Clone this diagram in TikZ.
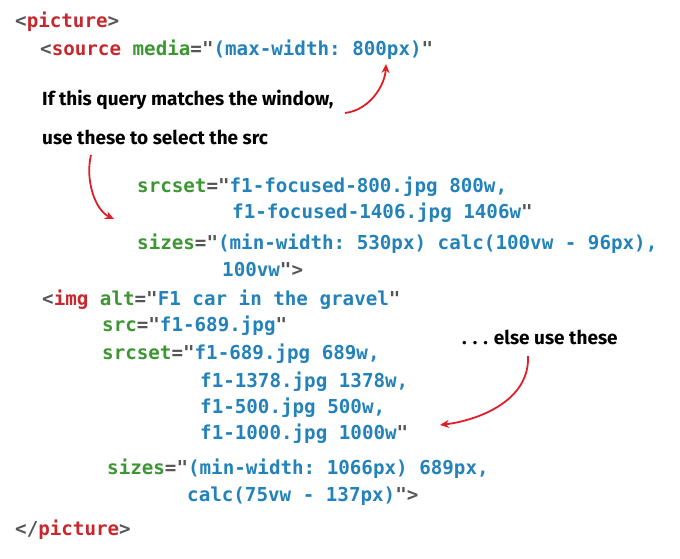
\documentclass[tikz,border=0pt]{standalone}
\usetikzlibrary{arrows.meta}
\usepackage{fontspec}
\setmonofont{DejaVu Sans Mono}
\newfontfamily\hand{Fira Sans}
\definecolor{tagc}{RGB}{200,40,45}
\definecolor{attc}{RGB}{60,150,50}
\definecolor{valc}{RGB}{35,130,185}
\definecolor{punc}{RGB}{85,85,85}
\definecolor{arrc}{RGB}{225,30,40}
\newcommand{\Tg}[1]{\textcolor{tagc}{#1}}
\newcommand{\At}[1]{\textcolor{attc}{#1}}
\newcommand{\Vl}[1]{\textcolor{valc}{#1}}
\begin{document}
\begin{tikzpicture}[x=1pt,y=1pt,
  code/.style={anchor=west,inner sep=0pt,font=\ttfamily\bfseries\fontsize{19.2}{22}\selectfont,text=punc},
  note/.style={anchor=west,inner sep=0pt,font=\hand\bfseries\fontsize{19}{22}\selectfont,text=black},
  redarrow/.style={draw=arrc,line width=1.8pt,-{Stealth[length=9pt,width=8pt]}}]
\useasboundingbox (0,0) rectangle (680,-558);
\node[code] (l1) at (15,-22) {<\Tg{picture}>};
\node[code] (l2) at (40,-50) {<\Tg{source} \At{media}="\Vl{(max-width: 800px)}"};
\node[note] (n1) at (42,-100) {If this query matches the window,};
\node[note] (n2) at (42,-137) {use these to select the src};
\node[code] (l3) at (137,-187) {\At{srcset}="\Vl{f1-focused-800.jpg 800w,}};
\node[code] (l4) at (232,-213) {\Vl{f1-focused-1406.jpg 1406w}"};
\node[code] (l5) at (137,-244) {\At{sizes}="\Vl{(min-width: 530px) calc(100vw - 96px),}};
\node[code] (l6) at (222,-270) {\Vl{100vw}">};
\node[code] (l7) at (42,-300) {<\Tg{img} \At{alt}="\Vl{F1 car in the gravel}"};
\node[code] (l8) at (102,-326) {\At{src}="\Vl{f1-689.jpg}"};
\node[code] (l9) at (102,-354) {\At{srcset}="\Vl{f1-689.jpg 689w,}};
\node[code] (l10) at (200,-382) {\Vl{f1-1378.jpg 1378w,}};
\node[code] (l11) at (200,-408) {\Vl{f1-500.jpg 500w,}};
\node[code] (l12) at (200,-434) {\Vl{f1-1000.jpg 1000w}"};
\node[code] (l13) at (107,-469) {\At{sizes}="\Vl{(min-width: 1066px) 689px,}};
\node[code] (l14) at (187,-496) {\Vl{calc(75vw - 137px)}">};
\node[code] (l15) at (15,-530) {</\Tg{picture}>};
\node[note] (n3) at (462,-337) {. . . else use these};
\coordinate (a1s) at (345,-113);
\coordinate (a1e) at (386,-64);
\coordinate (a2s) at (91,-155);
\coordinate (a2e) at (114,-219);
\coordinate (a3s) at (528,-356);
\coordinate (a3e) at (440,-425);
\draw[redarrow] (a1s) .. controls (370,-110) and (385,-85) .. (a1e);
\draw[redarrow] (a2s) .. controls (85,-180) and (95,-210) .. (a2e);
\draw[redarrow] (a3s) .. controls (530,-400) and (480,-420) .. (a3e);
\end{tikzpicture}
\end{document}
